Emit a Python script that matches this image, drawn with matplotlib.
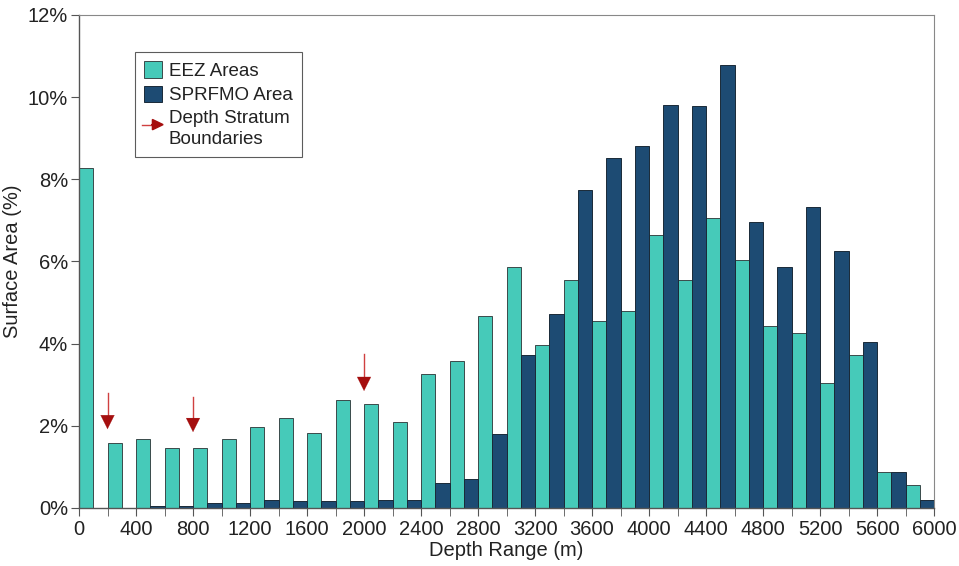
import matplotlib
matplotlib.use("Agg")
import matplotlib.pyplot as plt
from matplotlib.patches import Patch, FancyArrow
from matplotlib.legend_handler import HandlerBase
from matplotlib.lines import Line2D
from matplotlib.ticker import FuncFormatter, MultipleLocator

plt.rcParams['font.family'] = ['Liberation Sans', 'DejaVu Sans']

# depth bins (start of each 200 m bin)
depth_bins = list(range(0, 6000, 200))

eez_areas = [8.28, 1.59, 1.67, 1.47, 1.47, 1.67, 1.98, 2.19, 1.82, 2.62,
             2.54, 2.10, 3.25, 3.57, 4.67, 5.86, 3.96, 5.55, 4.56, 4.79,
             6.65, 5.55, 7.05, 6.03, 4.43, 4.27, 3.05, 3.73, 0.87, 0.56]
sprfmo_area = [0.0, 0.0, 0.04, 0.04, 0.13, 0.13, 0.20, 0.17, 0.17, 0.17,
               0.20, 0.20, 0.60, 0.71, 1.79, 3.73, 4.71, 7.73, 8.52, 8.80,
               9.82, 9.79, 10.78, 6.97, 5.86, 7.33, 6.26, 4.04, 0.87, 0.19]

# depth stratum boundaries (x, arrow top, arrow tip) in %
boundary_depths = [200, 800, 2000]
boundary_top = [2.8, 2.7, 3.75]
boundary_tip = [1.85, 1.78, 2.78]

eez_color = '#46CAB9'
sprfmo_color = '#1D4B73'
arrow_color = '#A50F0F'


class ArrowHandler(HandlerBase):
    def create_artists(self, legend, orig_handle, xdescent, ydescent,
                       width, height, fontsize, trans):
        y = height * 0.75 - ydescent
        shaft = Line2D([-xdescent - 2, width * 0.6], [y, y], color='#D04040',
                       lw=1.0, transform=trans)
        head = FancyArrow(width * 0.4, y, width * 0.65, 0, width=0,
                          head_width=fontsize * 0.55, head_length=width * 0.6,
                          length_includes_head=True, color=arrow_color,
                          transform=trans)
        return [shaft, head]


fig = plt.figure(figsize=(9.59, 5.66), dpi=100)
ax = fig.add_axes([0.0824, 0.1025, 0.8916, 0.871])

ax.bar(depth_bins, eez_areas, width=100, align='edge', color=eez_color,
       edgecolor='#3a4a4a', linewidth=0.7, label='EEZ Areas', zorder=2)
ax.bar([d + 100 for d in depth_bins], sprfmo_area, width=100, align='edge',
       color=sprfmo_color, edgecolor='#1a2a38', linewidth=0.7,
       label='SPRFMO Area', zorder=2)

for x, top, tip in zip(boundary_depths, boundary_top, boundary_tip):
    ax.plot([x, x], [top, tip + 0.35], color='#D04040', lw=1.0, zorder=3)
    ax.annotate('', xy=(x, tip), xytext=(x, tip + 0.4),
                arrowprops=dict(arrowstyle='-|>,head_width=0.5,head_length=1.0',
                                color=arrow_color, lw=0.1), zorder=3)

ax.set_xlim(0, 6000)
ax.set_ylim(0, 12)
ax.xaxis.set_major_locator(MultipleLocator(400))
ax.xaxis.set_minor_locator(MultipleLocator(200))
ax.yaxis.set_major_locator(MultipleLocator(2))
ax.yaxis.set_major_formatter(FuncFormatter(lambda v, p: '%d%%' % v))
ax.tick_params(axis='both', which='both', direction='out', color='#555555',
               labelsize=14.5, labelcolor='#222222')
ax.tick_params(axis='x', which='both', length=6, pad=3)
ax.tick_params(axis='y', length=6, pad=2)

for side in ['top', 'right']:
    ax.spines[side].set_color('#888888')
    ax.spines[side].set_linewidth(0.8)
for side in ['left', 'bottom']:
    ax.spines[side].set_color('#555555')
    ax.spines[side].set_linewidth(1.0)

ax.set_xlabel('Depth Range (m)', fontsize=14.5, color='#222222', labelpad=1)
ax.set_ylabel('Surface Area (%)', fontsize=14.5, color='#222222', labelpad=4)

handles = [Patch(facecolor=eez_color, edgecolor='#3a4a4a', linewidth=0.7),
           Patch(facecolor=sprfmo_color, edgecolor='#1a2a38', linewidth=0.7),
           Line2D([], [])]
labels = ['EEZ Areas', 'SPRFMO Area', 'Depth Stratum\nBoundaries']
leg = ax.legend(handles, labels,
                handler_map={Line2D: ArrowHandler()},
                loc='upper left', bbox_to_anchor=(0.0655, 0.925),
                fontsize=13.5, frameon=True, fancybox=False,
                edgecolor='#333333', handlelength=0.95, handleheight=0.95,
                handletextpad=0.35, labelspacing=0.3, borderpad=0.5,
                borderaxespad=0)
leg.get_frame().set_linewidth(0.8)
for t in leg.get_texts():
    t.set_color('#222222')
    t.set_linespacing(1.3)

fig.savefig('out.png', dpi=100)
